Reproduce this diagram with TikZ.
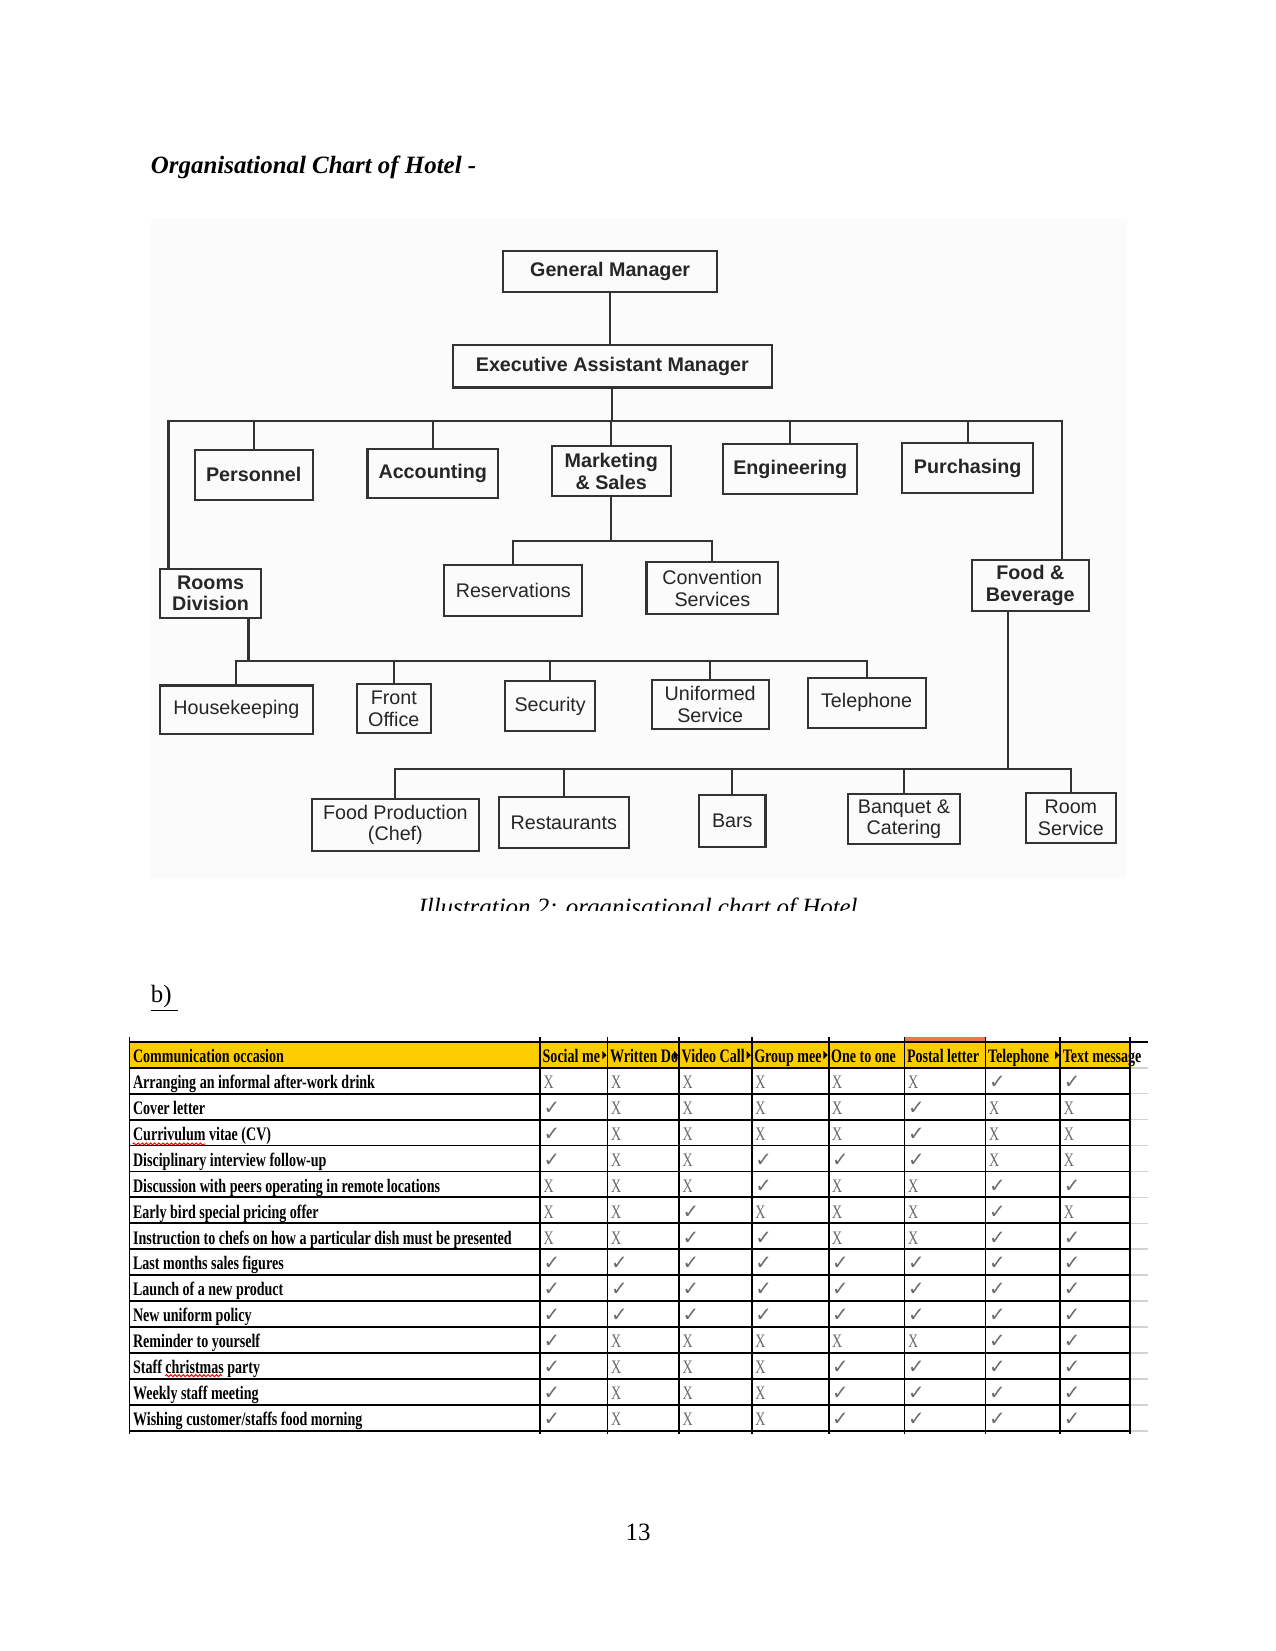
\documentclass[tikz,border=0pt]{standalone}
\usepackage{fontspec}
\setmainfont{Liberation Serif}
\newfontfamily\chartfont{Liberation Sans}
\newfontfamily\tabfont[FakeStretch=0.735]{Liberation Serif}
\newfontfamily\symfont{DejaVu Sans}
\usepackage{tikz}
\usetikzlibrary{decorations.pathmorphing}
\definecolor{hdryellow}{HTML}{FFCC00}
\definecolor{hdrorange}{HTML}{E8794A}
\definecolor{markgray}{HTML}{6A6A6A}
\definecolor{scanbg}{HTML}{FBFBFB}
\newcommand\px{0.5054bp}
\newcommand\mkc{{\symfont\fontsize{9.5}{10}\selectfont ✓}}
\newcommand\mkx{X}

\begin{document}
\begin{tikzpicture}[
  x=0.5054bp, y=-0.5054bp,
  box/.style={
    draw=black!80, line width=1pt, align=center, inner sep=1pt,
    font=\chartfont\fontsize{9.5}{10.5}\selectfont, text=black!85
  },
  hbox/.style={box, font=\chartfont\bfseries\fontsize{9.5}{10.5}\selectfont},
  sz/.style 2 args={minimum width=#1*\px, minimum height=#2*\px},
  link/.style={draw=black!80, line width=1pt},
  tline/.style={line width=0.9pt, black},
  cell/.style={anchor=base west, inner sep=0pt, font=\tabfont\bfseries\fontsize{9.2}{10}\selectfont},
  ynmark/.style={anchor=base west, inner sep=0pt, text=markgray, font=\tabfont\fontsize{9.2}{10}\selectfont},
  page/.style={anchor=base west, inner sep=0pt, font=\fontsize{12}{14}\selectfont},
]
  \useasboundingbox (0,0) rectangle (1211,1568);

  % Page texts
  \node[page, font=\bfseries\itshape\fontsize{12}{14}\selectfont] (title) at (143,165) {Organisational Chart of Hotel -};
  \node[page] (bpart) at (143,952) {\underline{b)\ }};
  \node[page, anchor=base] (pgno) at (606,1463) {13};

  % Scan background
  \fill[scanbg] (143,208) rectangle (1070,835);

  % Top levels
  \node[hbox, sz={203}{39}] (gm) at (579.5,257.5) {General Manager};
  \node[hbox, sz={303}{40}] (eam) at (581.5,348) {Executive Assistant Manager};

  % Departments
  \node[hbox, sz={112}{48}] (pers) at (241,451) {Personnel};
  \node[hbox, sz={124}{47}] (acct) at (411,449.5) {Accounting};
  \node[hbox, sz={113}{47}] (mkt) at (580.5,447.5) {Marketing\\\& Sales};
  \node[hbox, sz={127}{47}] (eng) at (750.5,445.5) {Engineering};
  \node[hbox, sz={124}{47}] (purch) at (919,444.5) {Purchasing};
  \node[hbox, sz={96}{47}] (rooms) at (200,563.5) {Rooms\\Division};
  \node[hbox, sz={111}{48}] (fnb) at (978.5,556) {Food \&\\Beverage};

  % Sections
  \node[box, sz={131}{48}] (resv) at (487.5,561) {Reservations};
  \node[box, sz={125}{49}] (conv) at (676.5,558.5) {Convention\\Services};
  \node[box, sz={145}{46}] (house) at (224.5,674) {Housekeeping};
  \node[box, sz={70}{46}] (front) at (374,673) {Front\\Office};
  \node[box, sz={85}{47}] (secu) at (522.5,670.5) {Security};
  \node[box, sz={111}{46}] (unif) at (674.5,669) {Uniformed\\Service};
  \node[box, sz={112}{47}] (tele) at (823,667.5) {Telephone};
  \node[box, sz={159}{49}] (foodp) at (375.5,783.5) {Food Production\\(Chef)};
  \node[box, sz={123}{48}] (rest) at (535.5,781) {Restaurants};
  \node[box, sz={63}{49}] (bars) at (695.5,779.5) {Bars};
  \node[box, sz={107}{48}] (banq) at (858.5,778) {Banquet \&\\Catering};
  \node[box, sz={86}{48}] (rmsvc) at (1017,777) {Room\\Service};

  % Bus points
  \coordinate (busL) at (160,400);
  \coordinate (busR) at (1009,400);
  \coordinate (mbus) at (580.5,514);
  \coordinate (rbus) at (236,628);
  \coordinate (fbus) at (957,730);

  % Connectors
  \draw[link] (gm.south) -- (gm.south |- eam.north);
  \draw[link] (eam.south) -- (eam.south |- busL);
  \draw[link] (rooms.north -| busL) -- (busL) -- (busR) -- (fnb.north -| busR);
  \foreach \n in {pers,acct,mkt,eng,purch}
    \draw[link] (\n.north) -- (\n.north |- busL);
  \draw[link] (mkt.south) -- (mkt.south |- mbus);
  \draw[link] (resv.north) |- (mbus) -| (conv.north);
  \draw[link] (rooms.south -| rbus) -- (rbus);
  \draw[link] (house.north) |- (rbus) -| (tele.north);
  \foreach \n in {front,secu,unif}
    \draw[link] (\n.north) -- (\n.north |- rbus);
  \draw[link] (fnb.south -| fbus) -- (fbus);
  \draw[link] (foodp.north) |- (fbus) -| (rmsvc.north);
  \foreach \n in {rest,bars,banq}
    \draw[link] (\n.north) -- (\n.north |- fbus);

  % Caption, cut off at the bottom
  \begin{scope}
    \clip (0,840) rectangle (1211,865);
    \node[anchor=base, inner sep=0pt, font=\itshape\fontsize{12}{14}\selectfont] (capt) at (606,869)
      {Illustration 2: organisational chart of Hotel};
  \end{scope}

  % Table header band
  \fill[hdryellow] (123,990) rectangle (1073,1014);
  \fill[hdrorange] (859,985) rectangle (936,990);

  % Table grid
  \draw[tline] (123,990) -- (1090,990);
  \foreach \r in {0,...,14} {
    \draw[tline] (123,{1014+\r*24.64}) -- (1073,{1014+\r*24.64});
    \draw[gray!35, line width=0.8pt] (1073,{1014+\r*24.64}) -- (1090,{1014+\r*24.64});
  }
  \foreach \x in {123,513,577,645,714,787,859,936,1007,1073}
    \draw[tline] (\x,985) -- (\x,1362);

  % Header texts
  \node[cell] (occ) at (126,1009) {Communication occasion};
  \foreach \h/\cx/\nx/\tri in {Social me/513/577/1, Written Do/577/645/1, Video Call/645/714/1,
      Group mee/714/787/1, One to one/787/859/0, Postal letter/859/936/0,
      Telephone/936/1007/1, Text message/1007/1073/0} {
    \node[cell] (h\cx) at (\cx+2,1009) {\h};
    \ifnum\tri=1
      \fill (\nx-1,1002) -- (\nx-5,998) -- (\nx-5,1006) -- cycle;
    \fi
  }

  % Rows
  \foreach \txt/\marks [count=\r] in {
      {Arranging an informal after-work drink}/{x,x,x,x,x,x,c,c},
      {Cover letter}/{c,x,x,x,x,c,x,x},
      {Currivulum vitae (CV)}/{c,x,x,x,x,c,x,x},
      {Disciplinary interview follow-up}/{c,x,x,c,c,c,x,x},
      {Discussion with peers operating in remote locations}/{x,x,x,c,x,x,c,c},
      {Early bird special pricing offer}/{x,x,c,x,x,x,c,x},
      {Instruction to chefs on how a particular dish must be presented}/{x,x,c,c,x,x,c,c},
      {Last months sales figures}/{c,c,c,c,c,c,c,c},
      {Launch of a new product}/{c,c,c,c,c,c,c,c},
      {New uniform policy}/{c,c,c,c,c,c,c,c},
      {Reminder to yourself}/{c,x,x,x,x,x,c,c},
      {Staff christmas party}/{c,x,x,x,c,c,c,c},
      {Weekly staff meeting}/{c,x,x,x,c,c,c,c},
      {Wishing customer/staffs food morning}/{c,x,x,x,c,c,c,c}} {
    \pgfmathsetmacro\yb{1014+\r*24.64}
    \node[cell] (row\r) at (126,\yb-5) {\txt};
    \foreach \m [count=\c] in \marks {
      \pgfmathsetmacro\xc{{123,513,577,645,714,787,859,936,1007,1073}[\c]}
      \node[ynmark] (m\r-\c) at (\xc+3,\yb-5) {\csname mk\m\endcsname};
    }
  }

  % Spelling marks
  \draw[red, line width=0.5pt, decorate, decoration={snake, amplitude=0.5pt, segment length=2pt}]
    (126,1086.5) -- (195,1086.5);
  \draw[red, line width=0.5pt, decorate, decoration={snake, amplitude=0.5pt, segment length=2pt}]
    (157,1306.5) -- (211,1306.5);
\end{tikzpicture}
\end{document}
